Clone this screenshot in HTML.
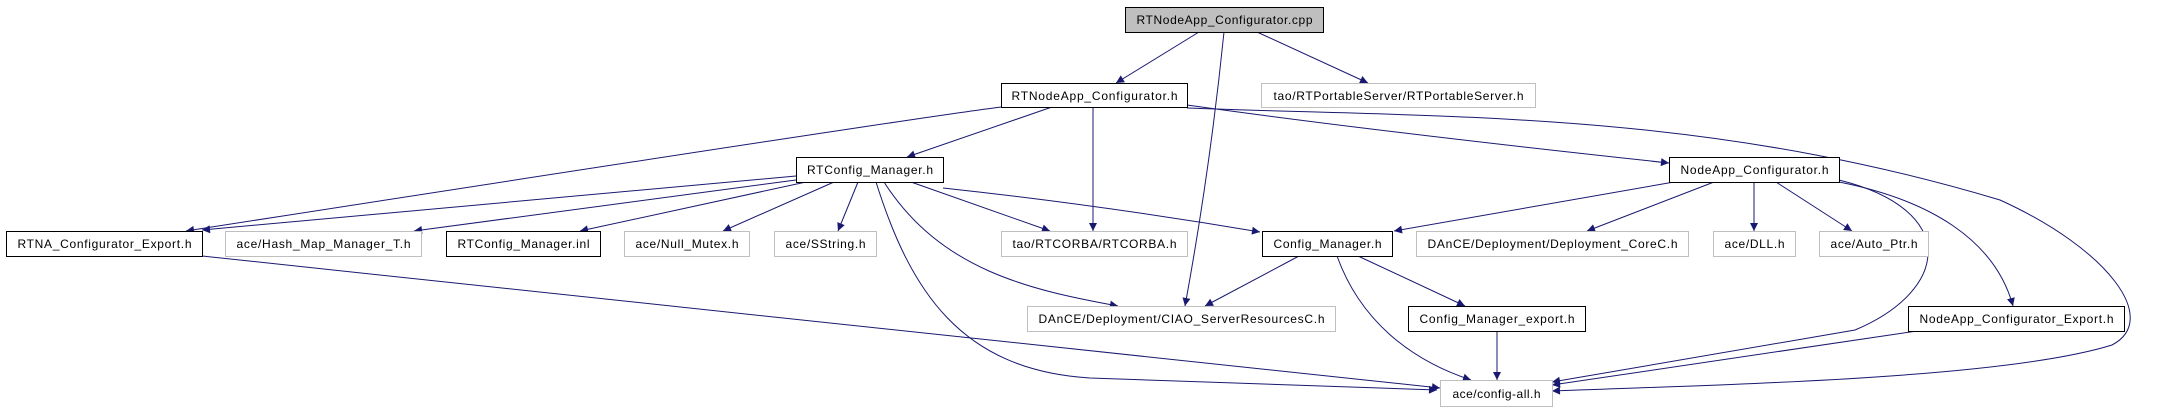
<!DOCTYPE html>
<html><head><meta charset="utf-8"><style>
html,body{margin:0;padding:0;background:#fff;width:2180px;height:411px;overflow:hidden}
svg{display:block}
text{font-family:"Liberation Sans",sans-serif;font-size:12px;fill:#000}
</style></head><body>
<svg width="2180" height="411" viewBox="0 0 2180 411" xmlns="http://www.w3.org/2000/svg">
<defs><marker id="a" viewBox="0 0 10 10" refX="10" refY="5" markerWidth="10" markerHeight="8" markerUnits="userSpaceOnUse" orient="auto"><path d="M0,0 L10,5 L0,10 z" fill="#191970"/></marker></defs>
<g fill="none" stroke="#191970" stroke-width="1" marker-end="url(#a)">
<path d="M1199,32 L1116,83"/>
<path d="M1257,32 L1368,83"/>
<path d="M1224,32 Q1210,170 1185,306"/>
<path d="M1052,107 L907,157"/>
<path d="M1001,107 Q900,120 186,231"/>
<path d="M1093,107 L1093,231"/>
<path d="M1187,105 Q1380,132 1669,163"/>
<path d="M1187,108 C1450,118 1700,110 2000,200 C2110,250 2160,320 2112,345 C2000,380 1700,385 1552,391"/>
<path d="M796,176 L202,230"/>
<path d="M796,180 L414,231"/>
<path d="M806,182 L580,231"/>
<path d="M834,182 L723,231"/>
<path d="M858,182 L838,231"/>
<path d="M911,182 L1050,231"/>
<path d="M943,188 Q1100,205 1260,232"/>
<path d="M884,182 C940,270 1030,290 1118,306"/>
<path d="M876,182 C910,290 960,370 1090,378 L1437,390"/>
<path d="M202,256 L1440,388"/>
<path d="M1674,182 L1394,231"/>
<path d="M1714,182 L1587,231"/>
<path d="M1754,182 L1754,231"/>
<path d="M1776,182 L1852,231"/>
<path d="M1839,182 C1930,200 1995,240 2013,306"/>
<path d="M1839,180 C1960,210 1950,290 1855,330 L1552,382"/>
<path d="M1299,256 L1205,306"/>
<path d="M1358,256 L1465,306"/>
<path d="M1337,256 C1360,320 1410,360 1471,380"/>
<path d="M1497,331 L1497,380"/>
<path d="M1917,331 L1552,385"/>
</g>
<g stroke-width="1">
<rect x="1125.5" y="7.5" width="198" height="25" fill="#bfbfbf" stroke="#000"/>
<rect x="1001.5" y="83.5" width="186" height="24" fill="#fff" stroke="#000"/>
<rect x="1261.5" y="83.5" width="274" height="24" fill="#fff" stroke="#bfbfbf"/>
<rect x="796.5" y="157.5" width="147" height="25" fill="#fff" stroke="#000"/>
<rect x="1669.5" y="157.5" width="170" height="25" fill="#fff" stroke="#000"/>
<rect x="6.5" y="231.5" width="196" height="25" fill="#fff" stroke="#000"/>
<rect x="225.5" y="231.5" width="196" height="25" fill="#fff" stroke="#bfbfbf"/>
<rect x="446.5" y="231.5" width="154" height="25" fill="#fff" stroke="#000"/>
<rect x="624.5" y="231.5" width="125" height="25" fill="#fff" stroke="#bfbfbf"/>
<rect x="774.5" y="231.5" width="102" height="25" fill="#fff" stroke="#bfbfbf"/>
<rect x="1001.5" y="231.5" width="186" height="25" fill="#fff" stroke="#bfbfbf"/>
<rect x="1262.5" y="231.5" width="130" height="25" fill="#fff" stroke="#000"/>
<rect x="1416.5" y="231.5" width="272" height="25" fill="#fff" stroke="#bfbfbf"/>
<rect x="1713.5" y="231.5" width="82" height="25" fill="#fff" stroke="#bfbfbf"/>
<rect x="1819.5" y="231.5" width="109" height="25" fill="#fff" stroke="#bfbfbf"/>
<rect x="1027.5" y="306.5" width="308" height="25" fill="#fff" stroke="#bfbfbf"/>
<rect x="1408.5" y="306.5" width="177" height="25" fill="#fff" stroke="#000"/>
<rect x="1908.5" y="306.5" width="216" height="25" fill="#fff" stroke="#000"/>
<rect x="1440.5" y="380.5" width="112" height="26" fill="#fff" stroke="#bfbfbf"/>
</g>
<g text-anchor="middle" lengthAdjust="spacingAndGlyphs">
<text x="1224.5" y="24" textLength="176">RTNodeApp_Configurator.cpp</text>
<text x="1094.5" y="100" textLength="166">RTNodeApp_Configurator.h</text>
<text x="1398.5" y="100" textLength="250">tao/RTPortableServer/RTPortableServer.h</text>
<text x="870" y="174" textLength="126">RTConfig_Manager.h</text>
<text x="1754.5" y="174" textLength="148">NodeApp_Configurator.h</text>
<text x="104.5" y="248" textLength="174">RTNA_Configurator_Export.h</text>
<text x="323.5" y="248" textLength="174">ace/Hash_Map_Manager_T.h</text>
<text x="523.5" y="248" textLength="132">RTConfig_Manager.inl</text>
<text x="687" y="248" textLength="103">ace/Null_Mutex.h</text>
<text x="825.5" y="248" textLength="80">ace/SString.h</text>
<text x="1094.5" y="248" textLength="164">tao/RTCORBA/RTCORBA.h</text>
<text x="1327.5" y="248" textLength="108">Config_Manager.h</text>
<text x="1552.5" y="248" textLength="250">DAnCE/Deployment/Deployment_CoreC.h</text>
<text x="1754.5" y="248" textLength="60">ace/DLL.h</text>
<text x="1874" y="248" textLength="87">ace/Auto_Ptr.h</text>
<text x="1181.5" y="323" textLength="286">DAnCE/Deployment/CIAO_ServerResourcesC.h</text>
<text x="1497" y="323" textLength="155">Config_Manager_export.h</text>
<text x="2016.5" y="323" textLength="194">NodeApp_Configurator_Export.h</text>
<text x="1496.5" y="398" textLength="88">ace/config-all.h</text>
</g>
</svg>
</body></html>
